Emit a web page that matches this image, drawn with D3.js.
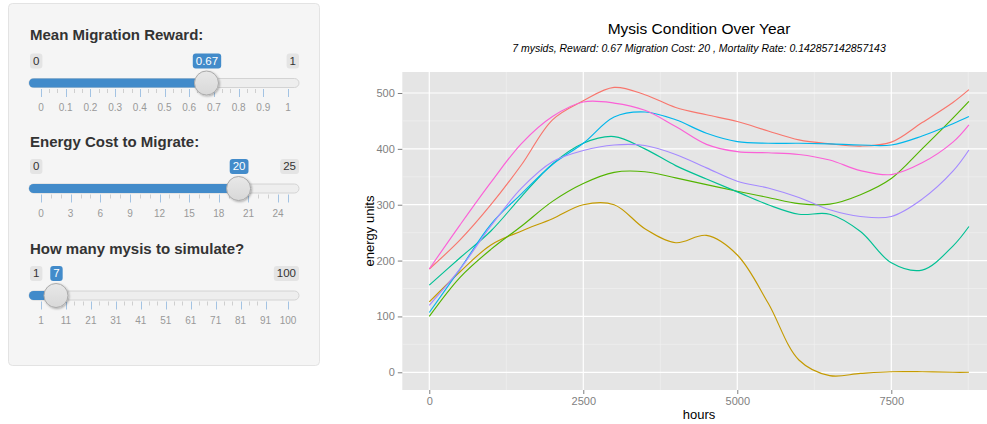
<!DOCTYPE html>
<html>
<head>
<meta charset="utf-8">
<script src="https://cdn.jsdelivr.net/npm/d3@7"></script>
<style>
  html, body { margin: 0; padding: 0; background: #fff; }
  svg { display: block; font-family: "Liberation Sans", Arial, Helvetica, sans-serif; }
</style>
</head>
<body>
<svg id="chart" width="987" height="424"></svg>
<script>
// ---------- DATA ----------
const hours = [0, 500, 1000, 1500, 2000, 2500, 3000, 3500, 4000, 4500, 5000, 5500, 6000, 6500, 7000, 7500, 8000, 8500, 8760];
const mysis1 = [185, 237, 300, 372, 452, 486, 510, 497, 474, 461, 449, 432, 416, 409, 405, 412, 447, 483, 506]; // red
const mysis2 = [126, 180, 228, 253, 275, 300, 300, 257, 232, 245, 210, 124, 22, -6, -2, 1, 1, 0, 0];         // ochre
const mysis3 = [100, 170, 220, 262, 306, 338, 358, 359, 348, 336, 324, 313, 302, 301, 318, 347, 400, 455, 485]; // green
const mysis4 = [156, 205, 253, 315, 373, 410, 422, 400, 370, 346, 323, 300, 283, 283, 252, 196, 183, 226, 261]; // teal
const mysis5 = [107, 185, 265, 320, 372, 410, 457, 466, 452, 428, 413, 410, 410, 409, 407, 407, 423, 445, 458]; // blue
const mysis6 = [120, 185, 262, 330, 377, 397, 407, 406, 390, 366, 342, 330, 313, 291, 279, 279, 310, 360, 398]; // purple
const mysis7 = [185, 264, 340, 410, 458, 484, 482, 469, 440, 408, 395, 393, 390, 380, 361, 354, 375, 412, 443]; // pink
const seriesColors = ["#F8766D", "#C49A00", "#53B400", "#00C094", "#00B6EB", "#A58AFF", "#FB61D7"];
const xTicks = [0, 2500, 5000, 7500];
const xMinorTicks = [1250, 3750, 6250, 8750];
const yTicks = [0, 100, 200, 300, 400, 500];
const yMinorTicks = [50, 150, 250, 350, 450];
const chartTitle = "Mysis Condition Over Year";
const chartSubtitle = "7 mysids, Reward: 0.67 Migration Cost: 20 , Mortality Rate: 0.142857142857143";
const xTitle = "hours";
const yTitle = "energy units";

// sliders
const sliderLabels = ["Mean Migration Reward:", "Energy Cost to Migrate:", "How many mysis to simulate?"];
const sliderMins = [0, 0, 1];
const sliderMaxs = [1, 25, 100];
const sliderValues = [0.67, 20, 7];
const sliderValueText = ["0.67", "20", "7"];
const sliderGrid1 = [0, 0.1, 0.2, 0.3, 0.4, 0.5, 0.6, 0.7, 0.8, 0.9, 1];
const sliderGrid1Labels = ["0", "0.1", "0.2", "0.3", "0.4", "0.5", "0.6", "0.7", "0.8", "0.9", "1"];
const sliderGrid2 = [0, 3, 6, 9, 12, 15, 18, 21, 24, 25];
const sliderGrid2Labels = ["0", "3", "6", "9", "12", "15", "18", "21", "24", ""];
const sliderGrid3 = [1, 11, 21, 31, 41, 51, 61, 71, 81, 91, 100];
const sliderGrid3Labels = ["1", "11", "21", "31", "41", "51", "61", "71", "81", "91", "100"];

// ---------- DRAW ----------
const svg = d3.select("#chart");
const defs = svg.append("defs");
const sh = defs.append("filter").attr("id", "hshadow").attr("x", "-50%").attr("y", "-50%").attr("width", "200%").attr("height", "200%");
sh.append("feDropShadow").attr("dx", 1).attr("dy", 1).attr("stdDeviation", 1.3).attr("flood-color", "#000").attr("flood-opacity", 0.3);
const hg = defs.append("linearGradient").attr("id", "hgrad").attr("x1", 0).attr("y1", 0).attr("x2", 0).attr("y2", 1);
hg.append("stop").attr("offset", "0%").attr("stop-color", "#e8e8e8");
hg.append("stop").attr("offset", "100%").attr("stop-color", "#d8d8d8");

// sidebar well
svg.append("rect").attr("x", 8.5).attr("y", 3.5).attr("width", 311).attr("height", 362).attr("rx", 4)
  .attr("fill", "#f5f5f5").attr("stroke", "#e3e3e3");

const grids = [sliderGrid1, sliderGrid2, sliderGrid3];
const gridLabels = [sliderGrid1Labels, sliderGrid2Labels, sliderGrid3Labels];
const labelBaselines = [40, 147, 254];
const boxTops = [53.5, 159, 266];

function labelBox(g, text, x, anchor, top, fill, color, weight) {
  const t = g.append("text").attr("y", top + 11.3).attr("font-size", 11.5).attr("fill", color)
    .attr("font-weight", weight).text(text);
  const w = t.node().getComputedTextLength();
  const bw = w + 6;
  let bx;
  if (anchor === "start") bx = x; else if (anchor === "end") bx = x - bw; else bx = x - bw / 2;
  t.attr("x", bx + 3);
  g.insert("rect", "text").attr("x", bx).attr("y", top).attr("width", bw).attr("height", 15).attr("rx", 3).attr("fill", fill);
}

for (let s = 0; s < 3; s++) {
  const g = svg.append("g");
  const sx = d3.scaleLinear().domain([sliderMins[s], sliderMaxs[s]]).range([41, 288]);
  g.append("text").attr("x", 30).attr("y", labelBaselines[s]).attr("font-size", 15).attr("font-weight", "bold")
    .attr("fill", "#333").text(sliderLabels[s]);
  const top = boxTops[s];
  const trackC = top + 29.5;
  // min / max boxes
  labelBox(g.append("g"), String(sliderMins[s]), 30, "start", top, "#e4e4e4", "#333", "normal");
  labelBox(g.append("g"), String(sliderMaxs[s]), 299, "end", top, "#e4e4e4", "#333", "normal");
  // track
  g.append("rect").attr("x", 29).attr("y", trackC - 4.5).attr("width", 270).attr("height", 9).attr("rx", 4.5)
    .attr("fill", "#eee").attr("stroke", "#ccc").attr("stroke-width", 0.8);
  g.append("rect").attr("x", 29).attr("y", trackC - 4.5).attr("width", sx(sliderValues[s]) - 29).attr("height", 9).attr("rx", 4.5)
    .attr("fill", "#428bca");
  // grid
  const gt = grids[s];
  const tickTop = trackC + 6;
  for (let i = 0; i < gt.length; i++) {
    const X = Math.round(sx(gt[i])) + 0.5;
    g.append("line").attr("x1", X).attr("x2", X).attr("y1", tickTop).attr("y2", tickTop + 8)
      .attr("stroke", "#a3c3e3").attr("stroke-width", 1);
    g.append("text").attr("x", sx(gt[i])).attr("y", top + 57.5).attr("text-anchor", "middle")
      .attr("font-size", 10).attr("fill", "#999").text(gridLabels[s][i]);
    if (i > 0) {
      const nSmall = (i === gt.length - 1 && (gt[i] - gt[i - 1]) < (gt[1] - gt[0])) ? 0 : 2;
      for (let z = 1; z <= nSmall; z++) {
        const v = gt[i - 1] + (gt[i] - gt[i - 1]) * z / (nSmall + 1);
        const Xs = Math.round(sx(v)) + 0.5;
        g.append("line").attr("x1", Xs).attr("x2", Xs).attr("y1", tickTop).attr("y2", tickTop + 4)
          .attr("stroke", "#cfcfcf").attr("stroke-width", 1);
      }
    }
  }
  // handle
  g.append("circle").attr("cx", sx(sliderValues[s])).attr("cy", trackC).attr("r", 12)
    .attr("fill", "url(#hgrad)").attr("stroke", "#aaa").attr("filter", "url(#hshadow)");
  // value box
  labelBox(g.append("g"), sliderValueText[s], sx(sliderValues[s]) + 0.5, "middle", top, "#428bca", "#fff", "normal");
}

// ---------- PLOT ----------
const x = d3.scaleLinear().domain([-438, 9198]).range([402.3, 995.9]);
const y = d3.scaleLinear().domain([-31.7, 537.6]).range([390, 72]);
const pl = 402.3, pr = 995.9, pt = 72, pb = 390;

svg.append("rect").attr("x", pl).attr("y", pt).attr("width", pr - pl).attr("height", pb - pt).attr("fill", "#e5e5e5");
const grid = svg.append("g");
grid.selectAll(".xm").data(xMinorTicks).join("line").attr("x1", d => x(d)).attr("x2", d => x(d))
  .attr("y1", pt).attr("y2", pb).attr("stroke", "#f2f2f2").attr("stroke-width", 0.6);
grid.selectAll(".ym").data(yMinorTicks).join("line").attr("y1", d => y(d)).attr("y2", d => y(d))
  .attr("x1", pl).attr("x2", pr).attr("stroke", "#f2f2f2").attr("stroke-width", 0.6);
grid.selectAll(".xM").data(xTicks).join("line").attr("x1", d => x(d)).attr("x2", d => x(d))
  .attr("y1", pt).attr("y2", pb).attr("stroke", "#fff").attr("stroke-width", 1.2);
grid.selectAll(".yM").data(yTicks).join("line").attr("y1", d => y(d)).attr("y2", d => y(d))
  .attr("x1", pl).attr("x2", pr).attr("stroke", "#fff").attr("stroke-width", 1.2);

const allSeries = [mysis1, mysis2, mysis3, mysis4, mysis5, mysis6, mysis7];
const line = d3.line().x((d, i) => x(hours[i])).y(d => y(d)).curve(d3.curveCatmullRom.alpha(0.5));
svg.append("g").selectAll("path").data(allSeries).join("path")
  .attr("d", d => line(d)).attr("fill", "none")
  .attr("stroke", (d, i) => seriesColors[i]).attr("stroke-width", 1.15);

// axes
const xAxis = svg.append("g").attr("transform", `translate(0,${pb})`)
  .call(d3.axisBottom(x).tickValues(xTicks).tickSize(4).tickPadding(3).tickFormat(d3.format("d")));
const yAxis = svg.append("g").attr("transform", `translate(${pl},0)`)
  .call(d3.axisLeft(y).tickValues(yTicks).tickSize(4.5).tickPadding(3).tickFormat(d3.format("d")));
[xAxis, yAxis].forEach(a => {
  a.select(".domain").remove();
  a.selectAll(".tick line").attr("stroke", "#7f7f7f");
  a.selectAll(".tick text").attr("fill", "#7f7f7f").attr("font-size", 11)
    .attr("font-family", '"Liberation Sans", Arial, sans-serif');
});

svg.append("text").attr("x", 699).attr("y", 419).attr("text-anchor", "middle").attr("font-size", 13)
  .attr("fill", "#000").text(xTitle);
svg.append("text").attr("transform", "translate(374,231) rotate(-90)").attr("text-anchor", "middle")
  .attr("font-size", 13).attr("fill", "#000").text(yTitle);
svg.append("text").attr("x", 699).attr("y", 34).attr("text-anchor", "middle").attr("font-size", 15.5)
  .attr("fill", "#000").text(chartTitle);
svg.append("text").attr("x", 699).attr("y", 52).attr("text-anchor", "middle").attr("font-size", 10.5)
  .attr("font-style", "italic").attr("fill", "#000").text(chartSubtitle);
</script>
</body>
</html>
